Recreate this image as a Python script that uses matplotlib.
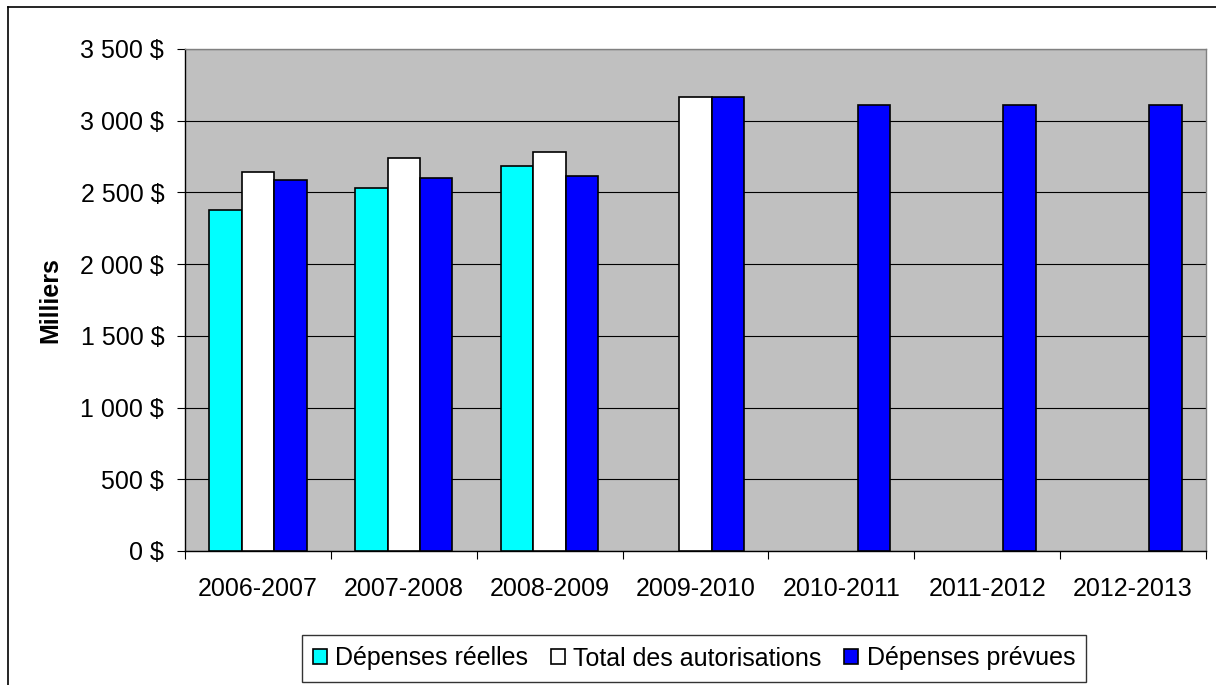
import numpy as np
import matplotlib
matplotlib.use("Agg")
import matplotlib.pyplot as plt
from matplotlib.ticker import FuncFormatter, FixedLocator

plt.rcParams['font.family'] = ['Liberation Sans', 'DejaVu Sans']

# data (milliers de dollars)
years = ["2006-2007", "2007-2008", "2008-2009", "2009-2010",
         "2010-2011", "2011-2012", "2012-2013"]
depenses_reelles = [2376, 2530, 2682, np.nan, np.nan, np.nan, np.nan]
total_autorisations = [2640, 2737, 2779, 3168, np.nan, np.nan, np.nan]
depenses_prevues = [2585, 2599, 2615, 3168, 3113, 3113, 3113]
series_names = ["Dépenses réelles", "Total des autorisations", "Dépenses prévues"]

W, H = 1216, 685
fig = plt.figure(figsize=(W / 100, H / 100), dpi=100)
ax = fig.add_axes([185 / W, 1 - 551 / H, (1206 - 185) / W, (551 - 49) / H])
ax.set_facecolor("#C0C0C0")

fs = 18
x = np.arange(len(years))
bw = 1 / 4.5
colors = ["#00FFFF", "#FFFFFF", "#0000FF"]
data = [depenses_reelles, total_autorisations, depenses_prevues]
for i, (vals, c, name) in enumerate(zip(data, colors, series_names)):
    ax.bar(x + (i - 1) * bw, vals, width=bw, color=c, edgecolor="black",
           linewidth=1.2, label=name, zorder=3)

ax.set_xlim(-0.5, len(years) - 0.5)
ax.set_ylim(0, 3500)
ax.set_yticks(np.arange(0, 3501, 500))
ax.yaxis.set_major_formatter(FuncFormatter(lambda v, p: f"{v:,.0f} $".replace(",", " ")))
ax.grid(axis="y", color="black", linewidth=0.8, zorder=1)

# category labels centred, ticks on the boundaries
ax.xaxis.set_major_locator(FixedLocator(np.arange(-0.5, len(years))))
ax.set_xticklabels([])
ax.xaxis.set_minor_locator(FixedLocator(x))
ax.set_xticklabels(years, minor=True)
ax.tick_params(axis="x", which="major", length=6, width=0.8, direction="out")
ax.tick_params(axis="x", which="minor", length=0, pad=19, labelsize=fs)
ax.tick_params(axis="y", length=6, width=0.8, pad=9, labelsize=fs)

for s in ["top", "right"]:
    ax.spines[s].set_color("#808080")
    ax.spines[s].set_linewidth(1.0)
for s in ["left", "bottom"]:
    ax.spines[s].set_color("black")
    ax.spines[s].set_linewidth(1.0)

ax.set_ylabel("Milliers", fontsize=fs, fontweight="bold", va="center")
ax.yaxis.set_label_coords((50 - 185) / (1206 - 185), 0.5)

leg = ax.legend(loc="center", bbox_to_anchor=(694 / W, 1 - 658.5 / H),
                bbox_transform=fig.transFigure, ncol=3, fontsize=fs,
                frameon=True, fancybox=False, edgecolor="black",
                handlelength=0.55, handleheight=0.55, handletextpad=0.35,
                columnspacing=0.9, borderpad=0.45, borderaxespad=0)
leg.get_frame().set_linewidth(1.0)

# outer chart border (only left and top edges visible)
x0, y0 = 7.5 / W, 1 - 7 / H
fig.add_artist(plt.Line2D([x0, x0], [0, y0], color="black", linewidth=1.2))
fig.add_artist(plt.Line2D([x0, 1], [y0, y0], color="black", linewidth=1.2))

fig.savefig("out.png", dpi=100)
